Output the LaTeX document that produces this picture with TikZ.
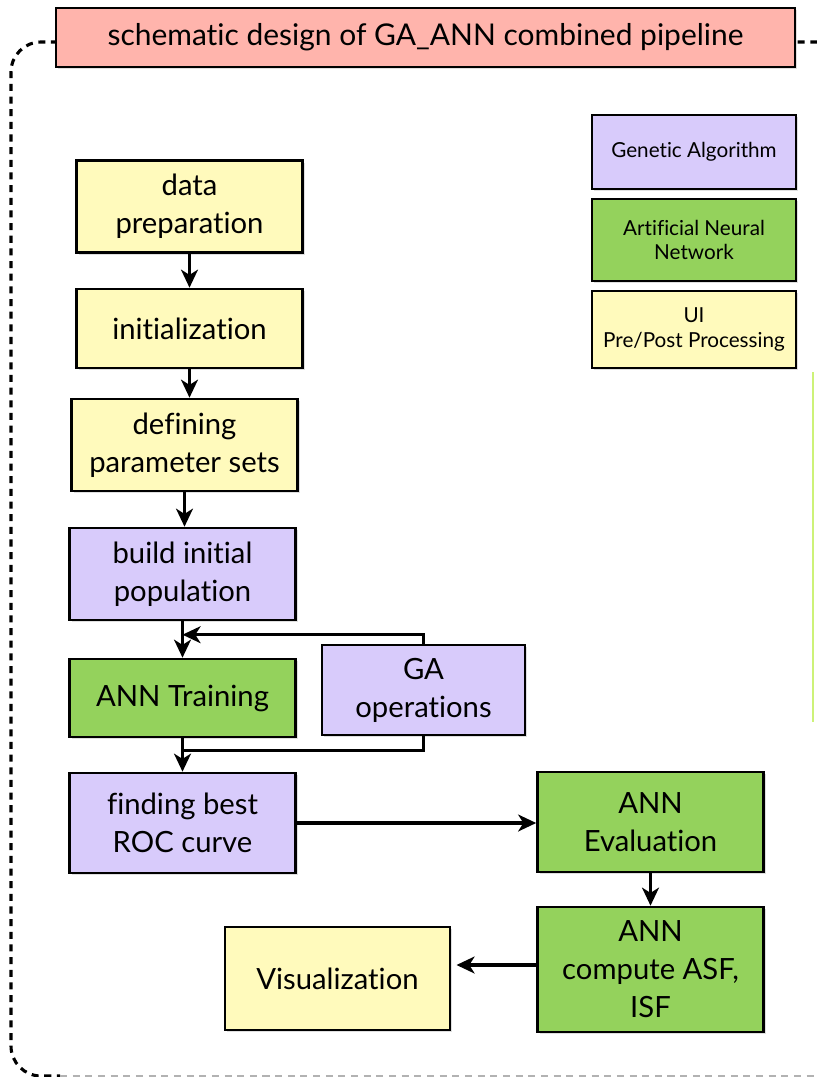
\documentclass[tikz,border=0pt]{standalone}
\usepackage{fontspec}
\setmainfont[Ligatures=NoCommon]{Lato}
\usepackage{xcolor}
\usetikzlibrary{arrows.meta,positioning,shadows}

\definecolor{gapurple}{RGB}{216,203,251}
\definecolor{anngreen}{RGB}{148,210,92}
\definecolor{uiyellow}{RGB}{255,250,188}
\definecolor{titlered}{RGB}{255,180,172}
\definecolor{edgegreen}{RGB}{205,242,120}

\begin{document}
\begin{tikzpicture}[
    x=0.025cm, y=-0.025cm,
    box/.style={rectangle, draw, line width=1.8pt, align=center,
        minimum width=5.65cm, minimum height=2.3cm,
        font=\fontsize{20.8}{27}\selectfont,
        drop shadow={opacity=0.25, shadow xshift=1.5pt, shadow yshift=-1.5pt}},
    legend/.style={box, minimum width=5.1cm, font=\fontsize{14.7}{17.5}\selectfont},
    ga/.style={fill=gapurple},
    ann/.style={fill=anngreen},
    ui/.style={fill=uiyellow},
    arr/.style={-{Stealth[length=4.5mm, width=4.2mm, inset=1.3mm]}, line width=2.3pt},
    link/.style={line width=2.3pt}
]
    \useasboundingbox (0,0) rectangle (816,1077);

    % outer frame
    \draw[dashed, dash pattern=on 5pt off 4pt, line width=2.2pt, rounded corners=0.75cm]
        (830,42) -- (11,42) -- (11,1076) -- (60,1076);
    \draw[gray!60, dash pattern=on 5pt off 4pt, line width=1.2pt] (60,1076) -- (830,1076);
    \draw[edgegreen, line width=1.2pt] (813,372) -- (813,722);

    \node[box, fill=titlered, minimum width=18.475cm, minimum height=1.475cm,
        font=\fontsize{21.3}{25}\selectfont] (title) at (425.5,37.5)
        {schematic design of GA\_ANN combined pipeline};

    % legend
    \node[legend, ga, minimum height=1.85cm] (lga) at (694,152) {Genetic Algorithm};
    \node[legend, ann, minimum height=2.05cm] (lann) at (694,240) {Artificial Neural\\Network};
    \node[legend, ui, minimum height=1.925cm] (lui) at (694,329.5) {UI\\Pre/Post Processing};

    % pipeline
    \node[box, ui] (prep) at (189.5,206.5) {data\\preparation};
    \node[box, ui, minimum height=1.975cm] (init) at (189.5,328.5) {initialization};
    \node[box, ui] (param) at (184.5,445) {defining\\parameter sets};
    \node[box, ga] (build) at (182.5,574) {build initial\\population};
    \node[box, ann, minimum height=1.95cm] (train) at (182.5,698) {ANN Training};
    \node[box, ga, minimum width=5.075cm, minimum height=2.25cm] (gaops) at (423.5,690) {GA\\operations};
    \node[box, ga, minimum height=2.5cm] (roc) at (182.5,823) {finding best\\ROC curve};
    \node[box, ann, minimum height=2.5cm] (eval) at (650.5,822) {ANN\\Evaluation};
    \node[box, ann, minimum height=3.125cm] (asf) at (650.5,969.5) {ANN\\compute ASF,\\ISF};
    \node[box, ui, minimum width=5.625cm, minimum height=2.575cm] (vis) at (337.5,978.5) {Visualization};

    \coordinate (loopin) at ([yshift=0.575cm]train.north);
    \coordinate (loopout) at ([yshift=-0.3cm]train.south);

    \draw[arr] (prep) -- (init);
    \draw[arr] (init) -- (init |- param.north);
    \draw[arr] (param) -- (param |- build.north);
    \draw[arr] (build) -- (train);
    \draw[arr] (gaops.north) |- (loopin);
    \draw[link] (gaops.south) |- (loopout);
    \draw[arr] (train) -- (roc);
    \draw[arr] (roc) -- (roc -| eval.west);
    \draw[arr] (eval) -- (asf);
    \draw[arr, shorten >=0.13cm] (asf.west |- 0,965) -- (vis.east |- 0,965);
\end{tikzpicture}
\end{document}
